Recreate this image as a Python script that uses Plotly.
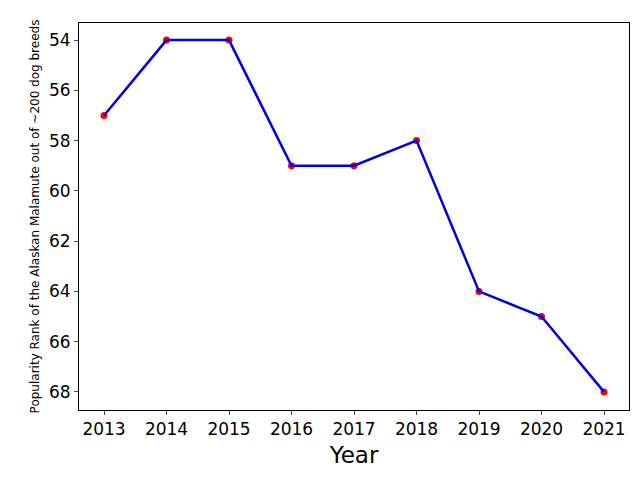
import plotly.graph_objects as go

years = [2013, 2014, 2015, 2016, 2017, 2018, 2019, 2020, 2021]
ranks = [57, 54, 54, 59, 59, 58, 64, 65, 68]

fig = go.Figure()
fig.add_trace(go.Scatter(x=years, y=ranks, mode="markers",
                         marker=dict(color="red", size=7, line=dict(width=0))))
fig.add_trace(go.Scatter(x=years, y=ranks, mode="lines",
                         line=dict(color="#0000dd", width=2.5)))

fig.update_layout(
    width=640, height=480, showlegend=False,
    plot_bgcolor="white", paper_bgcolor="white",
    margin=dict(l=71, r=19, t=15, b=78, autoexpand=False),
    font=dict(family="DejaVu Sans", color="black"),
)
fig.update_xaxes(range=[2012.6, 2021.4], tickvals=years, ticks="outside", ticklen=4,
                 tickfont=dict(size=17), showgrid=False, zeroline=False,
                 showline=True, linecolor="black", mirror=True,
                 title=dict(text="Year", font=dict(size=23), standoff=8))
fig.update_yaxes(range=[68.72, 53.32], tickvals=[54, 56, 58, 60, 62, 64, 66, 68],
                 ticks="outside", ticklen=4, tickfont=dict(size=17),
                 showgrid=False, zeroline=False,
                 showline=True, linecolor="black", mirror=True,
                 title=dict(text="Popularity Rank of the Alaskan Malamute out of ~200 dog breeds",
                            font=dict(size=12), standoff=6))
fig.write_html("out.html")
